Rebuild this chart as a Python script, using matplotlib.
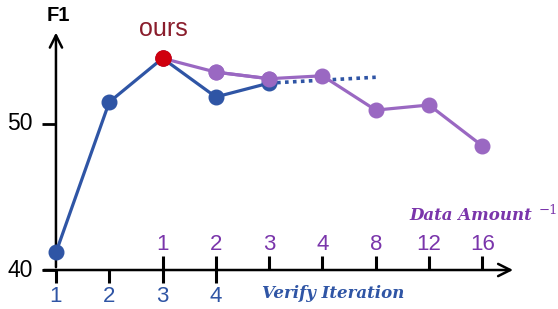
import matplotlib.pyplot as plt

# values
verify_labels = ['1', '2', '3', '4']
verify_f1 = [41.2, 51.5, 54.5, 51.85, 52.8]
verify_extrap = [52.8, 53.2]          # dotted continuation
data_labels = ['1', '2', '3', '4', '8', '12', '16']
data_f1 = [54.5, 53.55, 53.1, 53.3, 50.95, 51.3, 48.5]
ours_f1 = 54.5
y_ticks = [40, 50]

blue = '#2F55A5'
purple = '#9A68C2'
purple_txt = '#7A35AB'
red = '#D0000E'
dark_red = '#8A1D2C'

fig = plt.figure(figsize=(5.58, 3.09), dpi=100)
ax = fig.add_axes([0, 0, 1, 1])
ax.set_xlim(-1.05, 9.42)
ax.set_ylim(37.33, 58.49)
ax.axis('off')

# positions: verify iteration k at k-1, data amount curve starts at position 2
vx = list(range(len(verify_f1)))
dx = [2 + i for i in range(len(data_f1))]

ax.plot([vx[-1], dx[4]], verify_extrap, color=blue, lw=2.6, ls=(0, (1, 1.2)), zorder=2)
ax.plot(dx, data_f1, color=purple, lw=2.3, marker='o', ms=10.5, zorder=3)
ax.plot(vx, verify_f1, color=blue, lw=2.3, marker='o', ms=10.5, zorder=4)
# purple points sit over the blue line where they overlap
ax.plot(dx[1:3], data_f1[1:3], color=purple, lw=2.3, marker='o', ms=10.5, zorder=5)
ax.plot([2], [ours_f1], marker='o', ms=11, color=red, zorder=6)
ax.text(2.02, 56.5, 'ours', color=dark_red, fontsize=18, ha='center', va='center',
        family='Liberation Sans')

# axes with arrows
ax.annotate('', xy=(0, 56.45), xytext=(0, 40),
            arrowprops=dict(arrowstyle='->', lw=1.8, color='black', mutation_scale=22))
ax.annotate('', xy=(8.63, 40), xytext=(-0.28, 40),
            arrowprops=dict(arrowstyle='->', lw=1.8, color='black', mutation_scale=22))

for v in y_ticks:
    ax.plot([-0.27, 0], [v, v], color='black', lw=2, solid_capstyle='butt')
    ax.text(-0.43, v, str(v), ha='right', va='center', fontsize=16.5, family='Liberation Sans')

for i, lab in enumerate(verify_labels):
    ax.plot([i, i], [40, 39.1], color='black', lw=2.2, solid_capstyle='butt')
    ax.text(i, 38.2, lab, ha='center', va='center', fontsize=16, color=blue,
            family='Liberation Sans')

for x, lab in zip(dx, data_labels):
    ax.plot([x, x], [40, 40.95], color='black', lw=2.2, solid_capstyle='butt')
    ax.text(x, 41.78, lab, ha='center', va='center', fontsize=16, color=purple_txt,
            family='Liberation Sans')

ax.text(0.04, 57.4, 'F1', ha='center', va='center', fontsize=14.5, fontweight='bold',
        family='Liberation Sans')
ax.text(3.86, 38.4, 'Verify Iteration', ha='left', va='center', fontsize=12,
        color=blue, style='italic', fontweight='bold', family='DejaVu Serif')
ax.text(6.64, 43.75, 'Data Amount', ha='left', va='center', fontsize=12,
        color=purple_txt, style='italic', fontweight='bold', family='DejaVu Serif')
ax.text(9.06, 44.1, '\u22121', ha='left', va='center', fontsize=9.5,
        color=purple_txt, family='DejaVu Serif')

fig.savefig('out.png', dpi=100)
